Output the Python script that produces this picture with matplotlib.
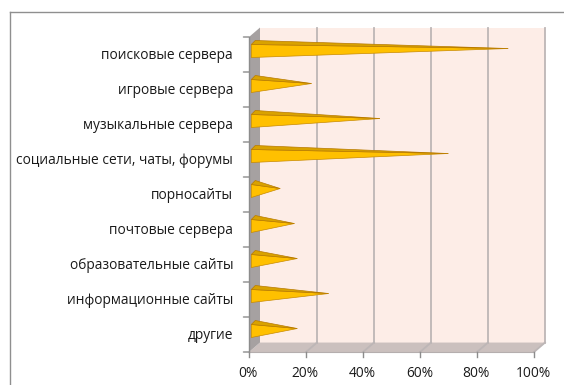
import matplotlib
matplotlib.use("Agg")
import matplotlib.pyplot as plt
from matplotlib.patches import Polygon
from matplotlib.lines import Line2D

# Share of users visiting each kind of site
categories = [
    "поисковые сервера",
    "игровые сервера",
    "музыкальные сервера",
    "социальные сети, чаты, форумы",
    "порносайты",
    "почтовые сервера",
    "образовательные сайты",
    "информационные сайты",
    "другие",
]
values = [89, 20, 44, 68, 9, 14, 15, 26, 15]
xticks = [0, 20, 40, 60, 80, 100]
xtick_labels = ["0%", "20%", "40%", "60%", "80%", "100%"]

plt.rcParams["font.family"] = ["Open Sans", "DejaVu Sans"]

W, H = 564, 385
fig = plt.figure(figsize=(W / 100, H / 100), dpi=100)
fig.patch.set_facecolor("white")

# Front plane of the 3D box in pixels
x0_px, x1_px = 249, 534
y_top_px, y_bot_px = 37, 352
ax = fig.add_axes([x0_px / W, (H - y_bot_px) / H,
                   (x1_px - x0_px) / W, (y_bot_px - y_top_px) / H])
n = len(categories)
ax.set_xlim(0, 100)
ax.set_ylim(n - 0.5, -0.5)
ax.axis("off")

# depth offset (back plane relative to front plane), in data units
DX, DY = 3.86, -0.27

y_lo, y_hi = -0.5, n - 0.5

# walls
back = Polygon([(DX, y_lo + DY), (100 + DX, y_lo + DY),
                (100 + DX, y_hi + DY), (DX, y_hi + DY)],
               closed=True, facecolor="#FDEDE7", edgecolor="none",
               clip_on=False, zorder=1)
floor = Polygon([(0, y_hi), (100, y_hi), (100 + DX, y_hi + DY), (DX, y_hi + DY)],
                closed=True, facecolor="#CBC0BE", edgecolor="none",
                clip_on=False, zorder=1)
lwall = Polygon([(0, y_lo), (0, y_hi), (DX, y_hi + DY), (DX, y_lo + DY)],
                closed=True, facecolor="#A6A1A1", edgecolor="none",
                clip_on=False, zorder=1)
for p in (back, floor, lwall):
    ax.add_patch(p)

# gridlines on back wall and floor
grid_c = "#BDB6B6"
for t in xticks[1:]:
    ax.add_line(Line2D([t + DX, t + DX], [y_lo + DY, y_hi + DY],
                       color=grid_c, lw=1.3, clip_on=False, zorder=2))
    ax.add_line(Line2D([t + DX, t], [y_hi + DY, y_hi],
                       color=grid_c, lw=1.3, clip_on=False, zorder=2))

# axes lines and ticks
axis_c = "#8C8C8C"
ax.add_line(Line2D([0, 0], [y_lo, y_hi], color=axis_c, lw=1.0,
                   clip_on=False, zorder=3))
ax.add_line(Line2D([0, 100], [y_hi, y_hi], color="#B5AEAE", lw=0.8,
                   clip_on=False, zorder=3))
for k in range(n + 1):
    yb = y_lo + k
    ax.annotate("", xy=(0, yb), xytext=(-4, 0), textcoords="offset points",
                arrowprops=dict(arrowstyle="-", color=axis_c, lw=1.0,
                                shrinkA=0, shrinkB=0),
                annotation_clip=False)
for t in xticks:
    ax.add_line(Line2D([t, t], [y_hi, y_hi + 0.14], color=axis_c, lw=1.0,
                       clip_on=False, zorder=3))

# pyramids
for i, v in enumerate(values):
    apex = (v + DX / 2, i - 0.171)
    fb = (0.8, i + 0.086)
    ft = (0.8, i - 0.286)
    bt = (2.2, i - 0.40)
    ax.add_patch(Polygon([fb, ft, apex], closed=True, facecolor="#FFC000",
                         edgecolor="#C88A00", lw=0.5, clip_on=False, zorder=5))
    ax.add_patch(Polygon([ft, bt, apex], closed=True, facecolor="#D9A200",
                         edgecolor="#B87A00", lw=0.5, clip_on=False, zorder=5))

# category labels
for i, c in enumerate(categories):
    ax.annotate(c, xy=(0, i), xytext=(-11.5, -1.0), textcoords="offset points",
                ha="right", va="center", fontsize=9.9, color="#1A1A1A",
                annotation_clip=False)

# value axis labels
for t, lab in zip(xticks, xtick_labels):
    ax.annotate(lab, xy=(t, y_hi), xytext=(-0.5, -15.5), textcoords="offset points",
                ha="center", va="center", fontsize=9.9, color="#1A1A1A",
                annotation_clip=False)

# chart border
fig.add_artist(Line2D([10 / W, 10 / W], [0, (H - 12) / H], color="#8F8F8F",
                      lw=1.0, transform=fig.transFigure))
fig.add_artist(Line2D([10 / W, 1], [(H - 12) / H, (H - 12) / H], color="#8F8F8F",
                      lw=1.0, transform=fig.transFigure))

fig.savefig("out.png", dpi=100)
